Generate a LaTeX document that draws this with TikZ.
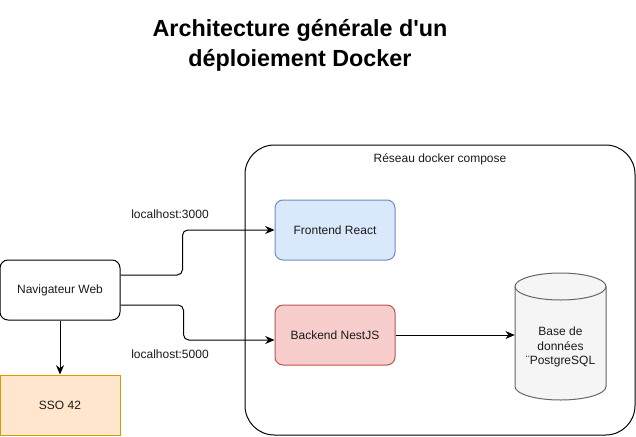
\documentclass[tikz,border=0pt]{standalone}
\usepackage{fontspec}
\setmainfont{Liberation Sans}
\usetikzlibrary{arrows.meta}
\definecolor{feFill}{HTML}{DAE8FC}\definecolor{feLine}{HTML}{6C8EBF}
\definecolor{beFill}{HTML}{F8CECC}\definecolor{beLine}{HTML}{B85450}
\definecolor{ssoFill}{HTML}{FFE6CC}\definecolor{ssoLine}{HTML}{D79B00}
\definecolor{dbFill}{HTML}{F5F5F5}\definecolor{dbLine}{HTML}{666666}
\definecolor{txt}{HTML}{1A1A1A}
\begin{document}
\begin{tikzpicture}[x=0.75pt,y=-0.75pt,
  box/.style={draw, line width=0.75pt, minimum width=90pt, minimum height=45pt, inner sep=0pt, align=center, font=\fontsize{9}{11}\selectfont, text=txt},
  rbox/.style={box, rounded corners=6pt},
  conn/.style={draw, line width=0.75pt, -{Stealth[length=7pt,width=6pt]}, rounded corners=4pt},
  lbl/.style={font=\fontsize{9}{11}\selectfont, text=txt, inner sep=0pt}]
\useasboundingbox (0,0) rectangle (636,436);
% title
\node[font=\bfseries\fontsize{17.5}{22.5}\selectfont, align=center, inner sep=0pt] (title) at (300,45) {Architecture générale d\textquotesingle un\\déploiement Docker};
% container
\draw[line width=0.75pt, rounded corners=22pt] (245,145) rectangle (635,435);
\node[lbl] (net) at (440,159) {Réseau docker compose};
% nodes
\node[rbox] (nav) at (60,290) {Navigateur Web};
\node[box, fill=ssoFill, draw=ssoLine] (sso) at (60,405) {SSO 42};
\node[rbox, fill=feFill, draw=feLine] (front) at (335,230) {Frontend React};
\node[rbox, fill=beFill, draw=beLine] (back) at (335,335) {Backend NestJS};
% database cylinder
\node[minimum width=68.25pt, minimum height=95.25pt, inner sep=0pt] (db) at (560.5,336.5) {};
\draw[line width=0.75pt, draw=dbLine, fill=dbFill]
  (515,286.5) -- (515,386.5) arc[start angle=180, end angle=0, x radius=45.5, y radius=13.5]
  -- (606,286.5) arc[start angle=0, end angle=-180, x radius=45.5, y radius=13.5] -- cycle;
\draw[line width=0.75pt, draw=dbLine]
  (515,286.5) arc[start angle=180, end angle=0, x radius=45.5, y radius=13.5];
\node[lbl, align=center, font=\fontsize{9}{11}\selectfont] (dbt) at (560.5,347) {Base de\\données\\¨PostgreSQL};
% connectors
\draw[conn] (nav.south) -- (sso.north);
\draw[conn] ([yshift=11.25pt]nav.east) -- ++(62,0) |- (front.west);
\draw[conn] ([yshift=-11.25pt]nav.east) -- ++(63,0) |- ([yshift=-3.75pt]back.west);
\draw[conn] (back.east) -- (db.west |- back.east);
% labels
\node[lbl] (l3000) at (170,214) {localhost:3000};
\node[lbl] (l5000) at (170,354) {localhost:5000};
\end{tikzpicture}
\end{document}
